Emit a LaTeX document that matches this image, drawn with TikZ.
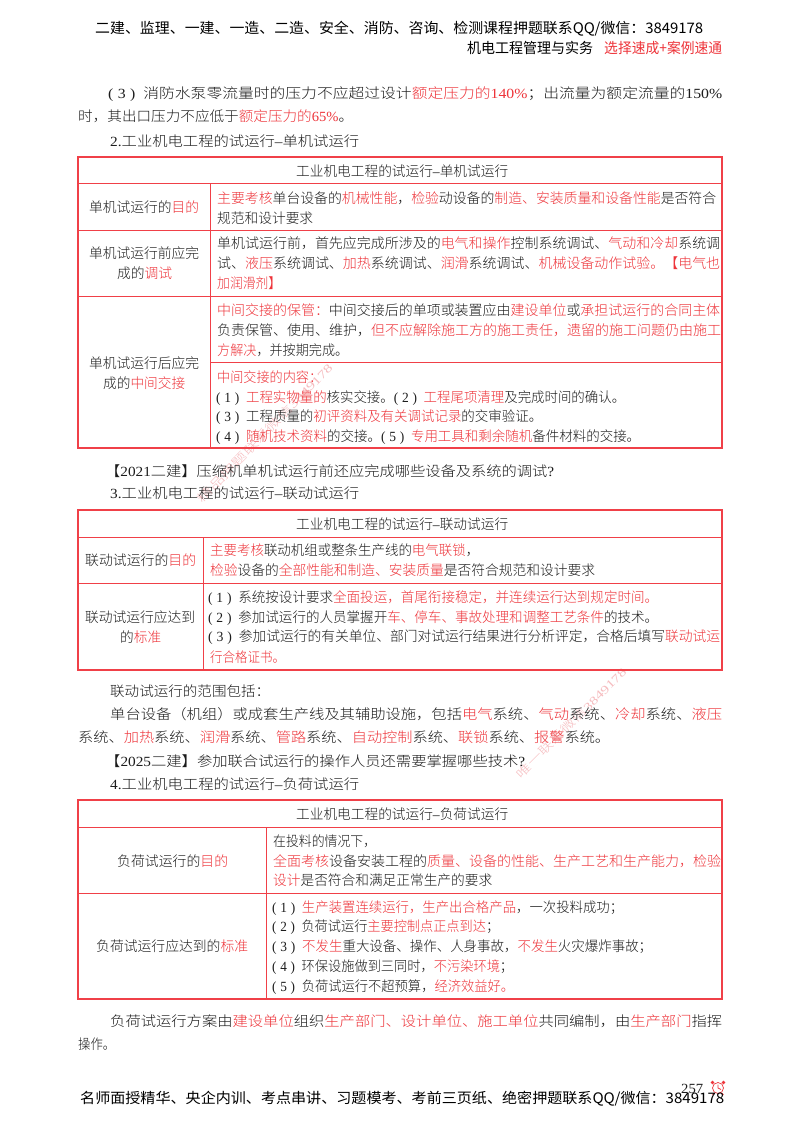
\documentclass[tikz,border=0pt]{standalone}
\usepackage{graphicx}
\usepackage{fontspec}
\setmainfont{Noto Sans CJK SC Light}
\newfontfamily\hdr{Noto Sans CJK SC}
\newfontfamily\lat{Liberation Serif}
\definecolor{redt}{HTML}{EE343A}
\definecolor{blk}{HTML}{1C1C1C}
\definecolor{rule}{HTML}{F04048}
\definecolor{wm}{HTML}{F6BCBF}
\newcommand\R[1]{\textcolor{redt}{#1}}
\newcommand\N[1]{{\lat #1}}
\newcommand\Pn[1]{{\lat (\hspace{.28em}#1\hspace{.28em})\hspace{.5em}}}
\newcount\tlc
\tikzset{
  tline/.style={anchor=base west,inner sep=0pt,text=blk,font=\fontsize{14}{16}\selectfont},
  hline/.style={tline,font=\hdr\fontsize{14.5}{16}\selectfont,text=black},
  outer/.style={draw=rule,line width=1.6pt},
  inner/.style={draw=rule,line width=1pt},
  wmark/.style={text=wm,font=\fontsize{11.5}{13}\selectfont,inner sep=0pt}
}
\newcommand\tl[5][tline]{\pgfmathsetlengthmacro\tlw{(#3-#2)*1pt}\global\advance\tlc by 1
  \node[#1] (t\the\tlc) at (#2,#4+5) {\resizebox{\tlw}{\height}{#5}};}
\begin{document}
\begin{tikzpicture}[x=1pt,y=-1pt]
\useasboundingbox (0,0) rectangle (800,1124);
\fill[white] (0,0) rectangle (800,1124);
% watermarks
\node[wmark,rotate=46] (wm1) at (265,433) {\resizebox{188pt}{\height}{精品押题联系微信\N{3849178}}};
\node[wmark,rotate=45] (wm2) at (571,723) {\resizebox{150pt}{\height}{唯一联系微信\N{3849178}}};
% header
\tl[hline]{95}{703}{29}{二建、监理、一建、一造、二造、安全、消防、咨询、检测课程押题联系QQ/微信：3849178}
\tl[hline]{467}{593}{49}{机电工程管理与实务}
\tl[hline]{604}{722}{49}{\textcolor{redt}{选择速成+案例速通}}
% intro
\tl{108}{722}{93}{\Pn{3}消防水泵零流量时的压力不应超过设计\R{额定压力的\N{140\%}}；出流量为额定流量的\N{150\%}}
\tl{78}{353}{116}{时，其出口压力不应低于\R{额定压力的\N{65\%}}。}
\tl{110}{359}{141}{\N{2.}工业机电工程的试运行\N{–}单机试运行}
% table 1
\draw[inner] (78,183)--(722,183) (78,230)--(722,230) (78,296)--(722,296) (210.5,362.5)--(722,362.5) (210.5,183)--(210.5,448);
\draw[outer] (78,157) rectangle (722,448);
\tl{296}{508}{171}{工业机电工程的试运行\N{–}单机试运行}
\tl{89}{199}{207}{单机试运行的\R{目的}}
\tl{217}{716}{198}{\R{主要考核}单台设备的\R{机械性能}，\R{检验}动设备的\R{制造、安装质量和设备性能}是否符合}
\tl{217}{313}{218}{规范和设计要求}
\tl{89}{199}{253}{单机试运行前应完}
\tl{117}{172}{273}{成的\R{调试}}
\tl{217}{720}{243}{单机试运行前，首先应完成所涉及的\R{电气和操作}控制系统调试、\R{气动和冷却}系统调}
\tl{217}{720}{263}{试、\R{液压}系统调试、\R{加热}系统调试、\R{润滑}系统调试、\R{机械设备动作试验。【电气也}}
\tl{217}{281}{283}{\R{加润滑剂】}}
\tl{89}{199}{363}{单机试运行后应完}
\tl{103}{185}{383}{成的\R{中间交接}}
\tl{217}{720}{310}{\R{中间交接的保管：}中间交接后的单项或装置应由\R{建设单位}或\R{承担试运行的合同主体}}
\tl{217}{721}{330}{负责保管、使用、维护，\R{但不应解除施工方的施工责任，遗留的施工问题仍由施工}}
\tl{217}{348}{350}{\R{方解决}，并按期完成。}
\tl{217}{322}{377}{\R{中间交接的内容：}}
\tl{216}{625}{397}{\Pn{1}\R{工程实物量的}核实交接。\Pn{2}\R{工程尾项清理}及完成时间的确认。}
\tl{216}{542}{416}{\Pn{3}工程质量的\R{初评资料及有关调试记录}的交审验证。}
\tl{216}{640}{436}{\Pn{4}\R{随机技术资料}的交接。\Pn{5}\R{专用工具和剩余随机}备件材料的交接。}
\tl{105}{554}{471}{【\N{2021}二建】压缩机单机试运行前还应完成哪些设备及系统的调试\N{?}}
\tl{110}{359}{493}{\N{3.}工业机电工程的试运行\N{–}联动试运行}
% table 2
\draw[inner] (78,537)--(722,537) (78,583)--(722,583) (203,537)--(203,670);
\draw[outer] (78,510) rectangle (722,670);
\tl{296}{508}{524}{工业机电工程的试运行\N{–}联动试运行}
\tl{85}{196}{560}{联动试运行的\R{目的}}
\tl{210}{479}{550}{\R{主要考核}联动机组或整条生产线的\R{电气联锁}，}
\tl{210}{595}{570}{\R{检验}设备的\R{全部性能和制造、安装质量}是否符合规范和设计要求}
\tl{85}{195}{617}{联动试运行应达到}
\tl{120}{161}{637}{的\R{标准}}
\tl{208}{658}{597}{\Pn{1}系统按设计要求\R{全面投运，首尾衔接稳定，并连续运行达到规定时间。}}
\tl{208}{658}{617}{\Pn{2}参加试运行的人员掌握开\R{车、停车、事故处理和调整工艺条件}的技术。}
\tl{208}{720}{636}{\Pn{3}参加试运行的有关单位、部门对试运行结果进行分析评定，合格后填写\R{联动试运}}
\tl{210}{285}{657}{\R{行合格证书。}}
% paragraph 2
\tl{110}{270}{691}{联动试运行的范围包括：}
\tl{110}{722}{714}{单台设备（机组）或成套生产线及其辅助设施，包括\R{电气}系统、\R{气动}系统、\R{冷却}系统、\R{液压}}
\tl{78}{610}{737}{系统、\R{加热}系统、\R{润滑}系统、\R{管路}系统、\R{自动控制}系统、\R{联锁}系统、\R{报警}系统。}
\tl{105}{525}{761}{【\N{2025}二建】参加联合试运行的操作人员还需要掌握哪些技术\N{?}}
\tl{110}{359}{784}{\N{4.}工业机电工程的试运行\N{–}负荷试运行}
% table 3
\draw[inner] (78,827)--(722,827) (78,893)--(722,893) (266,827)--(266,999);
\draw[outer] (78,800) rectangle (722,999);
\tl{296}{508}{814}{工业机电工程的试运行\N{–}负荷试运行}
\tl{117}{228}{861}{负荷试运行的\R{目的}}
\tl{96}{248}{946}{负荷试运行应达到的\R{标准}}
\tl{273}{376}{841}{在投料的情况下，}
\tl{273}{721}{861}{\R{全面考核}设备安装工程的\R{质量、设备的性能、生产工艺和生产能力，检验}}
\tl{273}{492}{880}{\R{设计}是否符合和满足正常生产的要求}
\tl{272}{623}{907}{\Pn{1}\R{生产装置连续运行，生产出合格产品}，一次投料成功；}
\tl{272}{499}{926}{\Pn{2}负荷试运行\R{主要控制点正点到达}；}
\tl{272}{652}{946}{\Pn{3}\R{不发生}重大设备、操作、人身事故，\R{不发生}火灾爆炸事故；}
\tl{272}{513}{966}{\Pn{4}环保设施做到三同时，\R{不污染环境}；}
\tl{272}{514}{986}{\Pn{5}负荷试运行不超预算，\R{经济效益好。}}
\tl{110}{722}{1021}{负荷试运行方案由\R{建设单位}组织\R{生产部门、设计单位、施工单位}共同编制，由\R{生产部门}指挥}
\tl{78}{115}{1044}{操作。}
% footer
\tl{681}{703}{1088}{\N{257}}
\draw[redt,line width=.7pt] (718,1088) circle (5.5);
\draw[redt,line width=.7pt] (718,1084.5)--(718,1088)--(721,1089.5) (714,1093)--(712.5,1095) (722,1093)--(723.5,1095);
\fill[redt] (712.5,1082.5) circle (1.8) (723.5,1082.5) circle (1.8);
\tl[hline]{80}{724}{1098}{名师面授精华、央企内训、考点串讲、习题模考、考前三页纸、绝密押题联系QQ/微信：3849178}
\end{tikzpicture}
\end{document}
